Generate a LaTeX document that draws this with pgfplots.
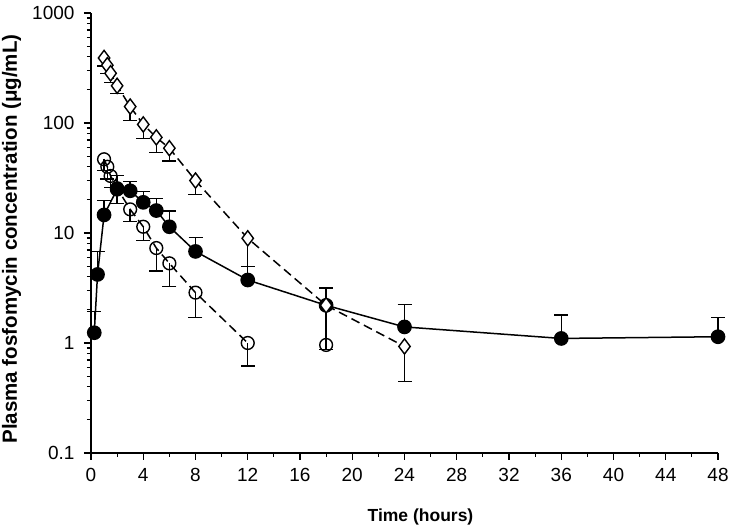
\documentclass[border=0pt]{standalone}
\usepackage{fontspec}
\setmainfont{Liberation Sans}
\usepackage{pgfplots}
\pgfplotsset{compat=1.18}

\begin{document}
\begin{tikzpicture}
\begin{axis}[
    scale only axis,
    width=627pt, height=440pt,
    at={(0,0)}, anchor=south west,
    xmin=0, xmax=48,
    ymode=log, ymin=0.1, ymax=1000,
    axis x line*=bottom, axis y line*=left,
    axis line style={line width=1.2pt},
    xtick={0,4,...,48}, minor x tick num=1,
    ytick={0.1,1,10,100,1000},
    yticklabels={0.1,1,10,100,1000},
    tick align=outside,
    major tick length=7pt, minor tick length=4pt,
    every tick/.style={line width=1.2pt, black},
    /pgf/number format/assume math mode=true,
    ticklabel style={font=\fontsize{19}{21}\selectfont},
    xticklabel style={yshift=-5pt},
    yticklabel style={xshift=-6pt},
    xlabel={\textbf{Time (hours)}},
    ylabel={\textbf{Plasma fosfomycin concentration (μg/mL)}},
    xlabel style={font=\fontsize{17.5}{19}\selectfont, yshift=-20pt, xshift=16pt},
    ylabel style={font=\fontsize{20.5}{22}\selectfont, yshift=4pt, xshift=-6pt},
    clip=false,
    error bars/error mark options={rotate=90, line width=1.4pt, mark size=7pt, solid},
]
% oral (filled circles)
\addplot[black, line width=1.5pt, mark=*, mark size=6.6pt,
    mark options={solid, fill=black},
    error bars/.cd, y dir=plus, y explicit,
    error bar style={line width=1.4pt}]
coordinates {
    (0.25,1.24) +- (0,0.70)
    (0.5,4.2)   +- (0,2.55)
    (1,14.6)    +- (0,5.2)
    (2,25)      +- (0,8.5)
    (3,24.2)    +- (0,5.1)
    (4,19.0)    +- (0,4.7)
    (5,16.0)    +- (0,4.7)
    (6,11.4)    +- (0,4.4)
    (8,6.8)     +- (0,2.3)
    (12,3.74)   +- (0,1.2)
    (18,2.2)    +- (0,0.96)
    (24,1.4)    +- (0,0.85)
    (36,1.1)    +- (0,0.70)
    (48,1.14)   +- (0,0.57)
};
% open circles
\addplot[black, line width=1.5pt, dash pattern=on 9pt off 5pt,
    mark=o, mark size=6.4pt,
    mark options={solid, fill=white, line width=1.4pt},
    error bars/.cd, y dir=minus, y explicit,
    error bar style={solid, line width=1.4pt}]
coordinates {
    (1,46.8)   +- (0,9.8)
    (1.25,40)  +- (0,9)
    (1.5,33)   +- (0,7)
    (2,25.5)   +- (0,6.9)
    (3,16.4)   +- (0,3.7)
    (4,11.4)   +- (0,2.8)
    (5,7.3)    +- (0,2.8)
    (6,5.3)    +- (0,2.05)
    (8,2.87)   +- (0,1.17)
    (12,1.0)   +- (0,0.38)
};
\addplot[only marks, black, mark=o, mark size=6.4pt,
    mark options={solid, fill=white, line width=1.4pt}]
coordinates {(18,0.96)};
% diamonds
\addplot[black, line width=1.5pt, dash pattern=on 9pt off 5pt,
    mark=diamond*, mark size=7.6pt,
    mark options={solid, fill=white, draw=black, line width=1.4pt},
    error bars/.cd, y dir=minus, y explicit,
    error bar style={solid, line width=1.4pt}]
coordinates {
    (1,390)    +- (0,60)
    (1.25,335) +- (0,52)
    (1.5,283)  +- (0,49)
    (2,218)    +- (0,32)
    (3,141)    +- (0,36)
    (4,97)     +- (0,25)
    (5,74)     +- (0,20)
    (6,59)     +- (0,14)
    (8,30)     +- (0,7.5)
    (12,8.95)  +- (0,4.0)
    (18,2.2)   +- (0,1.33)
    (24,0.93)  +- (0,0.485)
};
\end{axis}
\pgfresetboundingbox
\path[use as bounding box] (-91pt,-79pt) rectangle (642pt,453pt);
\end{tikzpicture}
\end{document}
